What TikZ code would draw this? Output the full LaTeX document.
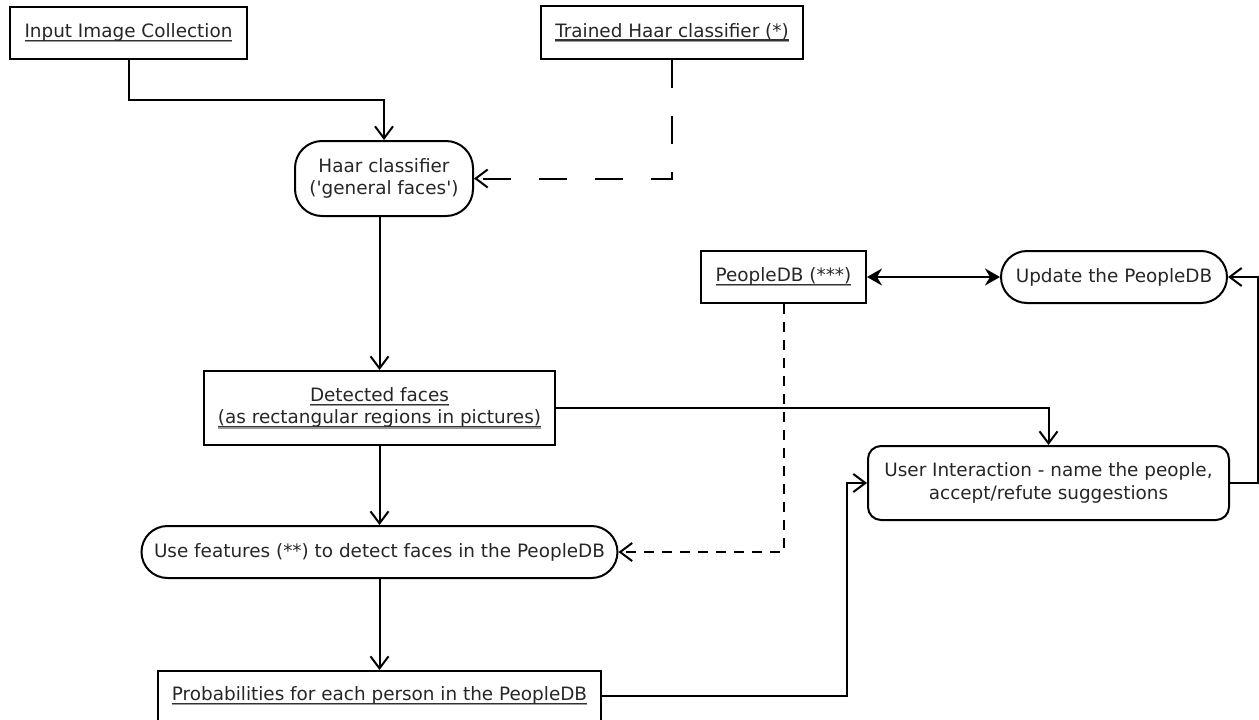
\documentclass[tikz,border=0pt]{standalone}
\usepackage{fontspec}
\setmainfont{DejaVu Sans}
\usepackage{tikz}
\usetikzlibrary{arrows.meta}
\newlength\ulwd
\newcommand{\ultext}[1]{\settowidth{\ulwd}{#1}\rlap{\color{black!80}\rule[-3.6pt]{\ulwd}{1.2pt}}\rlap{\color{black!40}\rule[-4.8pt]{\ulwd}{1.2pt}}#1}

\begin{document}
\begin{tikzpicture}[x=1pt,y=-1pt]
\tikzstyle{every node}=[font=\fontsize{18.4}{22.5}\selectfont, text=black!85, align=center, inner sep=0pt]
\tikzstyle{datbox}=[draw, line width=2pt, rectangle]
\tikzstyle{actbox}=[draw, line width=2pt, rectangle, rounded corners=26pt]
\tikzstyle{flow}=[line width=2pt, -{Straight Barb[length=12pt,width=18pt]}]
\tikzstyle{longdash}=[dash pattern=on 28pt off 28pt]
\tikzstyle{shortdash}=[dash pattern=on 10pt off 8pt]
\useasboundingbox (0,0) rectangle (1259,720);

\node [datbox, minimum width=237pt, minimum height=52pt] (input) at (128.5,33) {\ultext{Input Image Collection}};
\node [datbox, minimum width=262pt, minimum height=53pt] (trained) at (672,32.5) {\ultext{Trained Haar classifier (*)}};
\node [actbox, rounded corners=27pt, minimum width=178pt, minimum height=75pt] (haar) at (384,178.5) {Haar classifier\\(\textquotesingle general faces\textquotesingle)};
\node [datbox, minimum width=351pt, minimum height=74pt] (detected) at (379.5,408) {\ultext{Detected faces}\\\ultext{(as rectangular regions in pictures)}};
\node [actbox, minimum width=476pt, minimum height=52pt] (usefeat) at (379.5,552) {Use features (**) to detect faces in the PeopleDB};
\node [datbox, minimum width=443pt, minimum height=50pt] (probs) at (379.5,696) {\ultext{Probabilities for each person in the PeopleDB}};
\node [datbox, minimum width=165pt, minimum height=52pt] (peopledb) at (783.5,277) {\ultext{PeopleDB (***)}};
\node [actbox, minimum width=226pt, minimum height=52pt] (update) at (1114,277) {Update the PeopleDB};
\node [actbox, rounded corners=13pt, minimum width=361pt, minimum height=74pt] (userint) at (1048.5,483) {User Interaction - name the people,\\accept/refute suggestions};

\draw [flow] (input.south) -- (input.south |- 0,100) -| (haar.north);
\draw [flow, longdash] (trained.south) |- (haar.east);
\draw [flow] (detected.north |- haar.south) -- (detected.north);
\draw [flow] (detected.south) -- (usefeat.north);
\draw [flow] (usefeat.south) -- (probs.north);
\draw [flow] (detected.east) -| (userint.north);
\draw [flow] (probs.east) -- ++(245,0) |- (userint.west);
\draw [flow] (userint.east) -- ++(28,0) |- (update.east);
\draw [flow, shortdash] (peopledb.south) |- (usefeat.east);
\draw [line width=2pt, {Stealth[length=15pt,width=17pt,inset=5pt]}-{Stealth[length=15pt,width=17pt,inset=5pt]}] (peopledb.east) -- (update.west);
\end{tikzpicture}
\end{document}
